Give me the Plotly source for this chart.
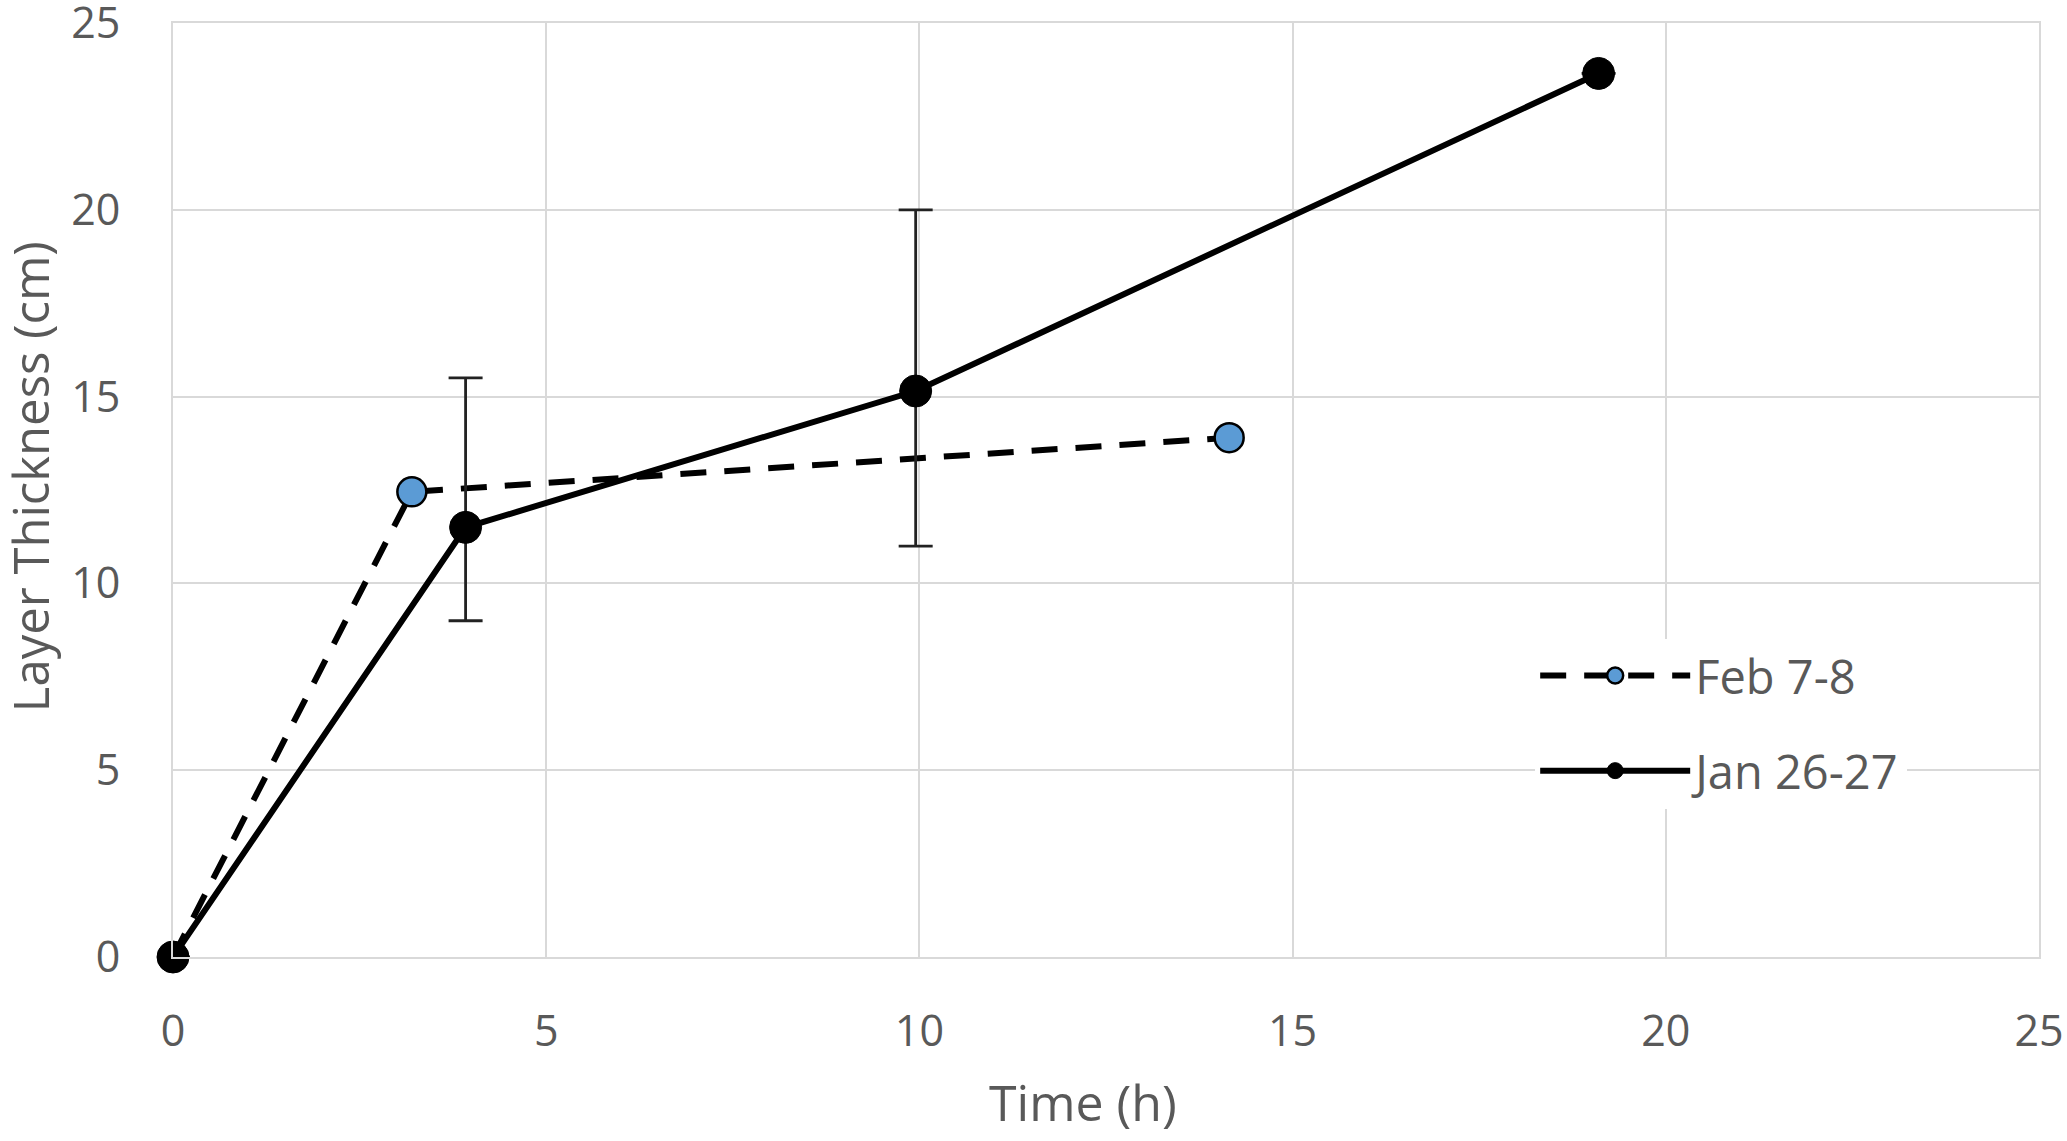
import plotly.graph_objects as go

# Data
feb_time = [0, 3.2, 14.15]
feb_thickness = [0, 12.45, 13.9]

jan_time = [0, 3.92, 9.95, 19.1]
jan_thickness = [0, 11.5, 15.15, 23.65]
jan_err_plus = [None, 4.0, 4.85, None]
jan_err_minus = [None, 2.5, 4.15, None]

x_ticks = [0, 5, 10, 15, 20, 25]
y_ticks = [0, 5, 10, 15, 20, 25]

x_title = "Time (h)"
y_title = "Layer Thickness (cm)"

FONT = "Open Sans"
GRAY = "#595959"
GRID = "#d9d9d9"

fig = go.Figure()

fig.add_trace(go.Scatter(
    x=feb_time, y=feb_thickness, name="Feb 7-8", mode="lines+markers",
    legendgroup="feb", cliponaxis=False,
    line=dict(color="black", width=6, dash="26px,18px"),
    marker=dict(size=29, color="#5B9BD5", line=dict(color="black", width=2.5)),
))

fig.add_trace(go.Scatter(
    x=jan_time, y=jan_thickness, name="Jan 26-27", mode="lines+markers",
    legendgroup="jan", cliponaxis=False,
    line=dict(color="black", width=6),
    marker=dict(size=32, color="black", line=dict(color="black", width=1)),
    error_y=dict(type="data", symmetric=False, array=jan_err_plus, arrayminus=jan_err_minus,
                 color="#222222", thickness=2.8, width=17),
))

fig.update_layout(
    width=2067, height=1141,
    margin=dict(l=173, r=28, t=23, b=184),
    paper_bgcolor="white", plot_bgcolor="white",
    font=dict(family=FONT, color=GRAY, size=43),
    showlegend=True,
    legend=dict(
        x=0.730, y=0.341, xanchor="left", yanchor="top",
        bgcolor="white", borderwidth=0,
        font=dict(size=47, color=GRAY, family=FONT),
        itemwidth=150, traceorder="grouped", tracegroupgap=31,
    ),
    annotations=[
        dict(text=x_title, xref="paper", yref="paper", x=0.4877, y=-0.155,
             xanchor="center", yanchor="middle", showarrow=False,
             font=dict(size=50, color=GRAY, family=FONT)),
        dict(text=y_title, xref="paper", yref="paper", x=-0.0765, y=0.514,
             xanchor="center", yanchor="middle", showarrow=False, textangle=-90,
             font=dict(size=49, color=GRAY, family=FONT)),
    ],
)

fig.update_xaxes(
    range=[0, 25], tickvals=x_ticks, ticktext=[str(v) for v in x_ticks],
    showgrid=True, gridcolor=GRID, gridwidth=2,
    zeroline=True, zerolinecolor=GRID, zerolinewidth=2,
    showline=True, linecolor=GRID, linewidth=2, mirror=True,
    ticks="", ticklabelstandoff=35, ticklabeloverflow="allow",
    tickfont=dict(size=43, color=GRAY, family=FONT),
    automargin=False,
)
fig.update_yaxes(
    range=[0, 25], tickvals=y_ticks, ticktext=[str(v) for v in y_ticks],
    showgrid=True, gridcolor=GRID, gridwidth=2,
    zeroline=True, zerolinecolor=GRID, zerolinewidth=2,
    showline=True, linecolor=GRID, linewidth=2, mirror=True,
    ticks="", ticklabelstandoff=42, ticklabeloverflow="allow",
    tickfont=dict(size=43, color=GRAY, family=FONT),
    automargin=False,
)

# remove the page's default body margin so the figure fills the window exactly
fig.write_html(
    "out.html",
    config={"displayModeBar": False},
    post_script="document.body.style.margin='0';document.body.style.overflow='hidden';",
)
